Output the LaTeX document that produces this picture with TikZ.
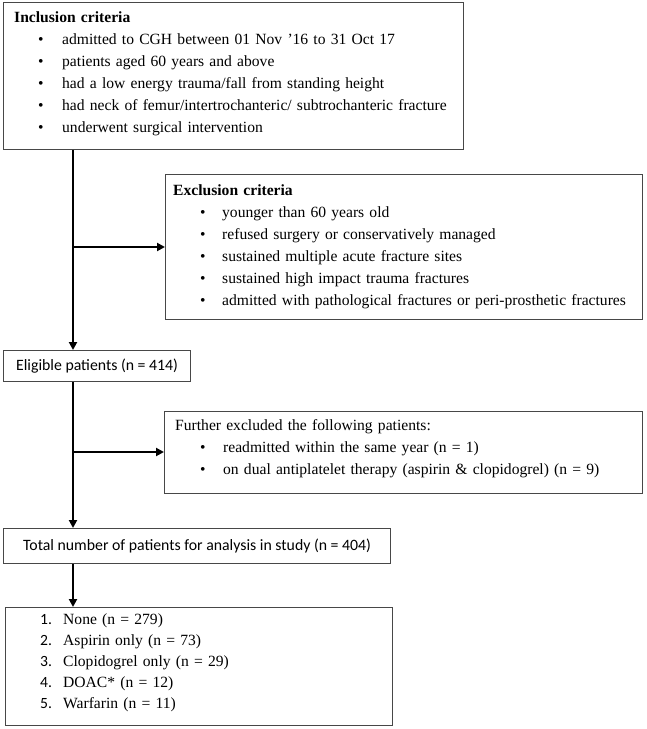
\documentclass[tikz,border=0pt]{standalone}
\usepackage{fontspec}
\setmainfont{Liberation Serif}
\newfontfamily\calib{Carlito}
\usetikzlibrary{arrows.meta}
\newcommand{\bul}[2]{\hspace*{#1pt}\makebox[#2pt][l]{•}}
\newcommand{\num}[1]{\makebox[23pt][l]{\calib #1}}
\begin{document}
\begin{tikzpicture}[x=1pt,y=-1pt,
  frame/.style={draw=black!72, line width=1.2pt, anchor=north west, inner sep=0pt},
  cbox/.style={frame, align=center, font=\calib\fontsize{15.8}{20}\selectfont},
  txt/.style={anchor=north west, inner sep=0pt, align=left, font=\rmfamily\fontsize{15.6}{22}\selectfont},
  conn/.style={line width=2pt, -{Triangle[length=8pt,width=8pt]}}]
\useasboundingbox[fill=white] (0,0) rectangle (646,729);

% boxes
\node[frame, minimum width=460pt, minimum height=147pt] (incl) at (3,2) {};
\node[frame, minimum width=477pt, minimum height=145pt] (excl) at (165,174) {};
\node[cbox, minimum width=187pt, minimum height=31pt] (elig) at (3,350) {Eligible patients (n = 414)};
\node[frame, minimum width=478pt, minimum height=82pt] (further) at (164,411) {};
\node[cbox, minimum width=387pt, minimum height=35pt] (total) at (3,528) {Total number of patients for analysis in study (n = 404)};
\node[frame, minimum width=387pt, minimum height=118pt] (final) at (5,607) {};

% texts
\node[txt, text width=440pt] (incltext) at ([shift={(11,5.3)}]incl.north west) {%
\strut\textbf{Inclusion criteria}\\
\bul{24}{24}admitted to CGH between 01 Nov ’16 to 31 Oct 17\\
\bul{24}{24}patients aged 60 years and above\\
\bul{24}{24}had a low energy trauma/fall from standing height\\
\bul{24}{24}had neck of femur/intertrochanteric/ subtrochanteric fracture\\
\bul{24}{24}underwent surgical intervention};

\node[txt, text width=465pt] (excltext) at ([shift={(8,6.3)}]excl.north west) {%
\strut\textbf{Exclusion criteria}\\
\bul{27}{22}younger than 60 years old\\
\bul{27}{22}refused surgery or conservatively managed\\
\bul{27}{22}sustained multiple acute fracture sites\\
\bul{27}{22}sustained high impact trauma fractures\\
\bul{27}{22}admitted with pathological fractures or peri-prosthetic fractures};

\node[txt, text width=460pt] (furthertext) at ([shift={(11,4.3)}]further.north west) {%
\strut Further excluded the following patients:\\
\bul{25}{23}readmitted within the same year (n = 1)\\
\bul{25}{23}on dual antiplatelet therapy (aspirin \& clopidogrel) (n = 9)};

\node[txt, font=\rmfamily\fontsize{15.6}{21}\selectfont, text width=340pt] (finaltext) at ([shift={(35,3)}]final.north west) {%
\strut\num{1.}None (n = 279)\\
\num{2.}Aspirin only (n = 73)\\
\num{3.}Clopidogrel only (n = 29)\\
\num{4.}DOAC* (n = 12)\\
\num{5.}Warfarin (n = 11)};

% connectors
\coordinate (j1) at (73,247);
\coordinate (j2) at (73,452);
\draw[conn] (incl.south -| j1) -- (elig.north -| j1);
\draw[conn] (j1) -- (excl.west |- j1);
\draw[conn] (elig.south -| j2) -- (total.north -| j2);
\draw[conn] (j2) -- (further.west |- j2);
\draw[conn] (total.south -| j2) -- (final.north -| j2);
\end{tikzpicture}
\end{document}
